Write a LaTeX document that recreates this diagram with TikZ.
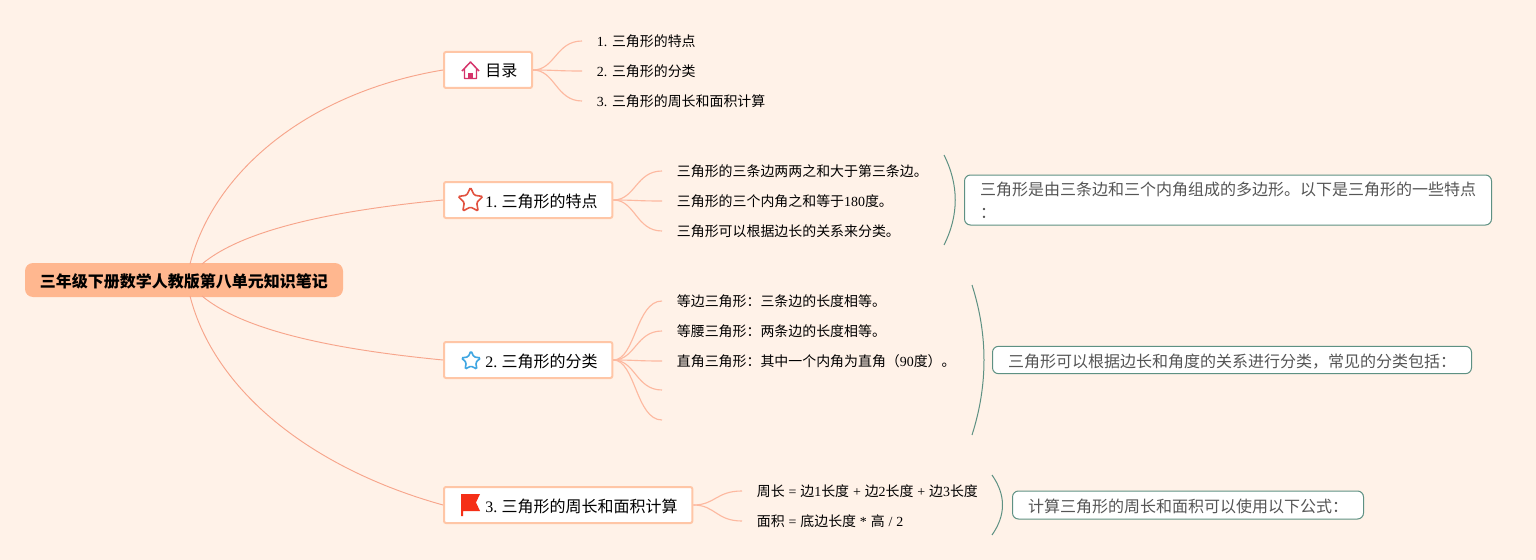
\documentclass[tikz,border=0pt]{standalone}
\usepackage{fontspec}
\setmainfont{Noto Sans CJK SC}
\newfontfamily\latinfont{Liberation Serif}
\newcommand{\lat}[1]{{\latinfont #1}}
\usepackage{xcolor}
\usetikzlibrary{positioning,shapes.geometric}
\definecolor{pagebg}{HTML}{FFF2E8}
\definecolor{rootbg}{HTML}{FFB78F}
\definecolor{topicln}{HTML}{FFC6A6}
\definecolor{rootln}{HTML}{F7A58B}
\definecolor{leafln}{HTML}{FDB9A0}
\definecolor{noteln}{HTML}{5E9183}
\definecolor{notetx}{HTML}{555555}
\definecolor{house}{HTML}{D5336A}
\definecolor{starred}{HTML}{E2513F}
\definecolor{starblue}{HTML}{3FA6E2}
\definecolor{flagred}{HTML}{F52F17}
\begin{document}
\begin{tikzpicture}[x=0.75pt,y=-0.75pt,
  rootblk/.style={fill=rootbg,rounded corners=6pt,font=\fontsize{12}{14}\selectfont\bfseries,minimum width=238.5pt,minimum height=25.5pt,inner sep=0pt,text height=11.5pt,text depth=1pt},
  topicblk/.style={draw=topicln,fill=white,line width=1.5pt,rounded corners=1.5pt,anchor=west,font=\fontsize{12}{14}\selectfont,minimum height=27pt,inner ysep=0pt,inner xsep=11pt,text height=11.5pt,text depth=1pt},
  leaf/.style={anchor=west,font=\fontsize{10.45}{12}\selectfont,inner xsep=11pt,inner ysep=1pt},
  noteblk/.style={draw=noteln,fill=white,line width=0.75pt,rounded corners=4.5pt,anchor=west,align=left,text=notetx,font=\fontsize{12}{17}\selectfont,inner xsep=11.5pt,inner ysep=0pt},
  rootline/.style={draw=rootln,line width=0.7pt},
  leafline/.style={draw=leafln,line width=0.85pt},
  noteline/.style={draw=noteln,line width=0.75pt},
  stariconblk/.style={star,star points=5,star point ratio=2,inner sep=0pt,rounded corners=1pt,line width=1.2pt}]
\fill[pagebg] (0,0) rectangle (1536,560);
\useasboundingbox (0,0) rectangle (1536,560);
% ---------- root ----------
\node[rootblk] (root) at (184,280) {三年级下册数学人教版第八单元知识笔记};
\coordinate (rootna) at (190,264);
\coordinate (rootnb) at (202,264);
\coordinate (rootsa) at (202,296);
\coordinate (rootsb) at (190,296);
% ---------- topics ----------
\node[topicblk,anchor=west] (toc) at (443,70) {\hspace{20pt}目录};
\node[topicblk,anchor=west] (feat) at (443,200) {\hspace{20pt}\lat{1. }\kern-0.75pt 三角形的特点};
\node[topicblk,anchor=west] (kind) at (443,360) {\hspace{20pt}\lat{2. }\kern-0.75pt 三角形的分类};
\node[topicblk,anchor=west] (calc) at (443,505) {\hspace{20pt}\lat{3. }\kern-0.75pt 三角形的周长和面积计算};
\draw[rootline] (rootna) .. controls (214,170) and (310,92) .. (toc.west);
\draw[rootline] (rootnb) .. controls (245,228) and (340,210) .. (feat.west);
\draw[rootline] (rootsa) .. controls (245,332) and (340,350) .. (kind.west);
\draw[rootline] (rootsb) .. controls (214,390) and (310,468) .. (calc.west);
% ---------- leaves ----------
\node[leaf] (toca) at (582,41) {\lat{1. }三角形的特点};
\node[leaf] (tocb) at (582,71) {\lat{2. }三角形的分类};
\node[leaf] (tocc) at (582,101) {\lat{3. }三角形的周长和面积计算};
\node[leaf] (feata) at (662,171) {三角形的三条边两两之和大于第三条边。};
\node[leaf] (featb) at (662,201) {三角形的三个内角之和等于\lat{180}度。};
\node[leaf] (featc) at (662,231) {三角形可以根据边长的关系来分类。};
\node[leaf] (kinda) at (662,301) {等边三角形：三条边的长度相等。};
\node[leaf] (kindb) at (662,331) {等腰三角形：两条边的长度相等。};
\node[leaf] (kindc) at (662,361) {直角三角形：其中一个内角为直角（\lat{90}度）。};
\coordinate (kindd) at (662,390);
\coordinate (kinde) at (662,420);
\node[leaf] (calca) at (742,491) {\spaceskip=2.9pt 周长 \lat{=} 边\lat{1}长度 \lat{+} 边\lat{2}长度 \lat{+} 边\lat{3}长度};
\node[leaf] (calcb) at (742,521) {\spaceskip=2.9pt 面积 \lat{=} 底边长度 \lat{*} 高 \lat{/ 2}};
\foreach \n in {toca,tocb,tocc}
  \draw[leafline] (toc.east) .. controls +(22,0) and +(-26,0) .. (\n.west);
\foreach \n in {feata,featb,featc}
  \draw[leafline] (feat.east) .. controls +(22,0) and +(-26,0) .. (\n.west);
\foreach \n in {kinda,kindb,kindc}
  \draw[leafline] (kind.east) .. controls +(22,0) and +(-26,0) .. (\n.west);
\foreach \n in {kindd,kinde}
  \draw[leafline] (kind.east) .. controls +(22,0) and +(-26,0) .. (\n);
\foreach \n in {calca,calcb}
  \draw[leafline] (calc.east) .. controls +(22,0) and +(-26,0) .. (\n.west);
% ---------- notes ----------
\node[noteblk,minimum width=395.25pt,minimum height=37.5pt] (featnote) at (964,200) {三角形是由三条边和三个内角组成的多边形。以下是三角形的一些特点\\：};
\node[noteblk,minimum width=359.25pt,minimum height=20.5pt,text height=11.5pt,text depth=1pt] (kindnote) at (992,360) {三角形可以根据边长和角度的关系进行分类，常见的分类包括：};
\node[noteblk,minimum width=263.25pt,minimum height=21pt,text height=11.5pt,text depth=1pt] (calcnote) at (1012,505) {计算三角形的周长和面积可以使用以下公式：};
\coordinate (feattop) at (944,155);
\coordinate (featbot) at (944,245);
\coordinate (kindtop) at (972,285);
\coordinate (kindbot) at (972,435);
\coordinate (calctop) at (992,475);
\coordinate (calcbot) at (992,535);
\draw[noteline] (feattop) .. controls (959,185) and (959,215) .. (featbot);
\draw[noteline] (kindtop) .. controls (988,335) and (988,385) .. (kindbot);
\draw[noteline] (calctop) .. controls (1006,495) and (1006,515) .. (calcbot);
% ---------- icons ----------
\draw[house,line width=1.1pt,line join=round] (462,71) -- (470.5,62) -- (479,71) (464.5,69) -- (464.5,78.5) -- (476.5,78.5) -- (476.5,69);
\fill[house] (468,78.5) -- (468,73) -- (473,73) -- (473,78.5) -- cycle;
\node[stariconblk,draw=starred,minimum size=19.5pt] (feaicon) at (470.5,200.5) {};
\node[stariconblk,draw=starblue,minimum size=15pt] (kindicon) at (471,361) {};
\fill[flagred] (461,494) -- (480,494) -- (476,502.5) -- (480,511) -- (463,511) -- (463,516) -- (461,516) -- cycle;
\end{tikzpicture}
\end{document}
